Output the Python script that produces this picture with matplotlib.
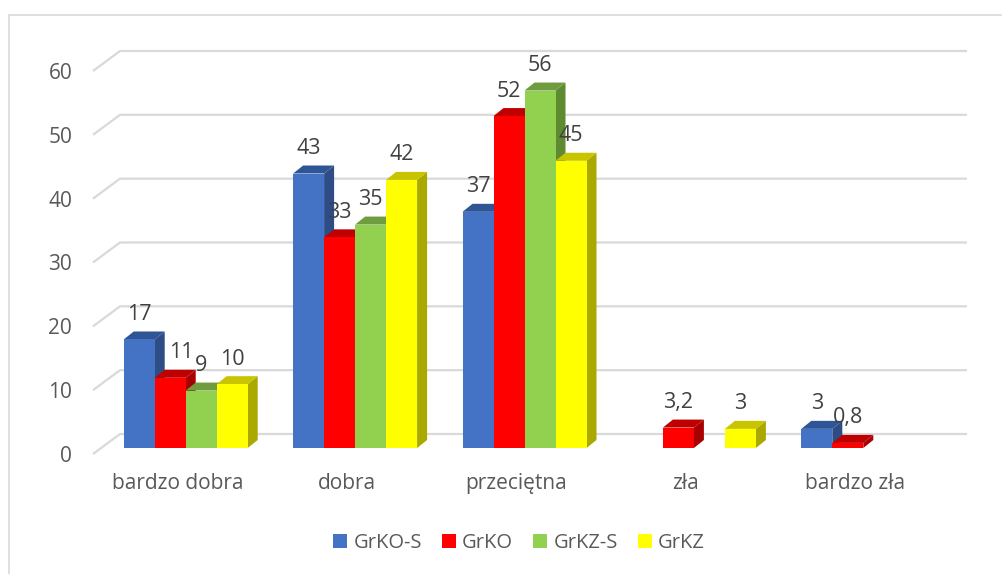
import matplotlib
matplotlib.use('Agg')
import matplotlib.pyplot as plt
from matplotlib.patches import Rectangle, Polygon, Patch
from matplotlib.lines import Line2D

# Data
categories = ['bardzo dobra', 'dobra', 'przeciętna', 'zła', 'bardzo zła']
series = ['GrKO-S', 'GrKO', 'GrKZ-S', 'GrKZ']
grko_s = [17, 43, 37, None, 3]
grko = [11, 33, 52, 3.2, 0.8]
grkz_s = [9, 35, 56, None, None]
grkz = [10, 42, 45, 3, None]
values = [grko_s, grko, grkz_s, grkz]
yticks = [0, 10, 20, 30, 40, 50, 60]

front = ['#4472C4', '#FF0000', '#92D050', '#FFFF00']
side = ['#2E4C86', '#A80000', '#5E8A32', '#A9A900']
top = ['#2F5597', '#C00000', '#6E9C3E', '#C8C400']

plt.rcParams['font.family'] = ['Open Sans', 'DejaVu Sans']
txt = '#595959'
fs = 15

W, H = 1003, 574
fig = plt.figure(figsize=(W / 100, H / 100), dpi=100)

# axes placed so the floor front edge is at y=454 px, 60 at 71 px
ax_l, ax_r, ax_b, ax_t = 93, 940, 454, 71
ax = fig.add_axes([ax_l / W, 1 - ax_b / H, (ax_r - ax_l) / W, (ax_b - ax_t) / H])
ax.set_xlim(-0.5, len(categories) - 0.5)
ax.set_ylim(0, 60)
for s in ax.spines.values():
    s.set_visible(False)

# pixel -> data units
px_x = (ax_r - ax_l) / len(categories)
px_y = (ax_b - ax_t) / 60.0

# back wall gridlines with the floor diagonal on the left
wall_dx, wall_dy = 27 / px_x, 20 / px_y
for v in yticks:
    ax.plot([-0.5, -0.5 + wall_dx, len(categories) - 0.5 + wall_dx],
            [v, v + wall_dy, v + wall_dy], color='#D9D9D9', lw=1.6,
            zorder=0, clip_on=False, solid_capstyle='butt')

# 3D-looking bars
fx, fy = 8 / px_x, 6 / px_y
dx, dy = 10 / px_x, 8 / px_y
bw = 31 / px_x
n = len(series)
for i in range(len(categories)):
    for j in range(n):
        v = values[j][i]
        if v is None:
            continue
        x0 = i - n * bw / 2 + j * bw + fx
        x1 = x0 + bw
        y0, y1 = fy, fy + v
        ax.add_patch(Polygon([(x1, y0), (x1 + dx, y0 + dy), (x1 + dx, y1 + dy), (x1, y1)],
                             closed=True, fc=side[j], ec='none', zorder=2, clip_on=False))
        ax.add_patch(Polygon([(x0, y1), (x1, y1), (x1 + dx, y1 + dy), (x0 + dx, y1 + dy)],
                             closed=True, fc=top[j], ec='none', zorder=2, clip_on=False))
        ax.add_patch(Rectangle((x0, y0), bw, v, fc=front[j], ec='none', zorder=2, clip_on=False))
        lab = ('%g' % v).replace('.', ',')
        # Excel nudged the "11" label to the right
        shift = 8 if (i, j) == (0, 1) else 0
        ax.annotate(lab, (x0 + bw / 2, y1), xytext=(shift, 18), textcoords='offset points',
                    ha='center', va='center', fontsize=fs + 0.5, color='#404040', zorder=5)

ax.set_yticks(yticks)
ax.set_yticklabels([str(t) for t in yticks])
ax.set_xticks(range(len(categories)))
ax.set_xticklabels(categories)
ax.tick_params(axis='y', length=0, pad=15, labelsize=fs, labelcolor=txt)
ax.tick_params(axis='x', length=0, pad=14, labelsize=fs, labelcolor=txt)

handles = [Patch(fc=front[j], ec='none', label=series[j]) for j in range(n)]
fig.legend(handles=handles, loc='center', bbox_to_anchor=(519 / W, 1 - 543 / H), ncol=4,
           frameon=False, fontsize=14.5, labelcolor=txt, handlelength=0.7,
           handleheight=0.7, handletextpad=0.3, columnspacing=1.0)

# chart frame
fig.add_artist(Line2D([9 / W, 9 / W, 1], [0, 1 - 15 / H, 1 - 15 / H],
                      transform=fig.transFigure, color='#D9D9D9', lw=1.2))

fig.savefig('out.png', dpi=100)
